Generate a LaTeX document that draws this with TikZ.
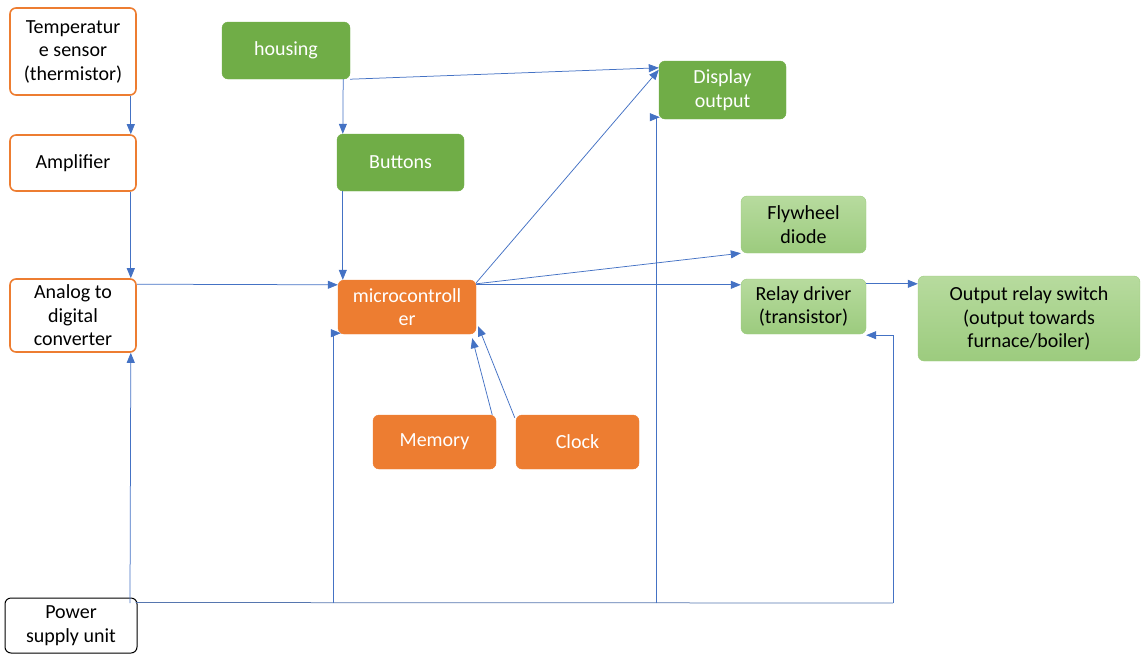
\documentclass[tikz,border=0pt]{standalone}
\usepackage{fontspec}
\setmainfont{Carlito}
\usetikzlibrary{arrows.meta,calc}
\definecolor{accOrange}{HTML}{ED7D31}
\definecolor{accGreen}{HTML}{70AD47}
\definecolor{lightGreenTop}{HTML}{B7DB9E}
\definecolor{lightGreenBot}{HTML}{9CCB7E}
\definecolor{lineBlue}{HTML}{4472C4}
\begin{document}
\begin{tikzpicture}[x=1pt,y=-1pt,
  box/.style={rounded corners=6pt, align=center, inner sep=2pt,
    font=\fontsize{20}{23.5}\selectfont},
  outlinebox/.style={box, draw=accOrange, line width=1.6pt, fill=white, text=black},
  orangebox/.style={box, fill=accOrange, draw=accOrange, text=white},
  greenbox/.style={box, fill=accGreen, draw=accGreen, text=white},
  palebox/.style={box, top color=lightGreenTop, bottom color=lightGreenBot,
    draw=lightGreenBot, text=black},
  psubox/.style={box, draw=black, line width=1pt, fill=white, text=black},
  link/.style={draw=lineBlue, line width=0.75pt,
    -{Triangle[length=10pt,width=8pt]}},
  rail/.style={draw=lineBlue!70!gray, line width=0.75pt}]
  \useasboundingbox (0,0) rectangle (1141,654);

  % sensing chain
  \node[outlinebox, minimum width=126pt, minimum height=87pt] (temp) at (73,51.5)
    {Temperatur\\e sensor\\(thermistor)};
  \node[outlinebox, minimum width=126pt, minimum height=56pt] (amp) at (73,163) {Amplifier};
  \node[outlinebox, minimum width=126pt, minimum height=73pt] (adc) at (73,315.5)
    {Analog to\\digital\\converter};
  \node[psubox, minimum width=132pt, minimum height=55pt] (psu) at (71,625.5)
    {Power\\supply unit};

  % user interface
  \node[greenbox, minimum width=128pt, minimum height=57pt] (housing) at (286,50.5) {housing};
  \node[greenbox, minimum width=127pt, minimum height=57pt] (buttons) at (400.5,162.5) {Buttons};
  \node[greenbox, minimum width=127pt, minimum height=58pt] (display) at (722.5,90)
    {Display\\output};

  % controller core
  \node[orangebox, minimum width=138pt, minimum height=54pt] (micro) at (407,307)
    {microcontroll\\er};
  \node[orangebox, minimum width=123pt, minimum height=54pt] (memory) at (434.5,442) {Memory};
  \node[orangebox, minimum width=123pt, minimum height=54pt] (clock) at (577.5,442) {Clock};

  % output stage
  \node[palebox, minimum width=125pt, minimum height=57pt] (fly) at (803.5,224.5)
    {Flywheel\\diode};
  \node[palebox, minimum width=125pt, minimum height=55pt] (relay) at (803.5,306.5)
    {Relay driver\\(transistor)};
  \node[palebox, minimum width=222pt, minimum height=85pt] (out) at (1029,318.5)
    {Output relay switch\\(output towards\\furnace/boiler)};

  % signal path
  \draw[link] ($(temp.south east)+(-6,0)$) -- ($(amp.north east)+(-6,0)$);
  \draw[link] ($(amp.south east)+(-6,0)$) -- ($(adc.north east)+(-6,0)$);
  \draw[link] ($(adc.north east)+(0,6)$) -- ($(micro.north west)+(0,5)$);
  \draw[link] ($(housing.south east)+(-7,0)$) -- ($(buttons.north west)+(6,0)$);
  \draw[link] (housing.south east) -- ($(display.north west)+(0,7)$);
  \draw[link] ($(buttons.south west)+(6,0)$) -- ($(micro.north west)+(5,0)$);
  \draw[link] ($(micro.north east)+(0,3)$) -- ($(display.north west)+(0,9)$);
  \draw[link] ($(micro.north east)+(0,4)$) -- (fly.south west);
  \draw[link] ($(micro.north east)+(0,5)$) -- ($(relay.north west)+(0,6)$);
  \draw[link] ($(relay.north east)+(0,5)$) -- ($(out.north west)+(0,8)$);
  \draw[link] ($(memory.north east)+(-4,0)$) -- ($(micro.south east)+(-4,4)$);
  \draw[link] ($(clock.north west)+(-1,3)$) -- ($(micro.south east)+(2,-8)$);

  % supply rail
  \coordinate (railstart) at ($(psu.north east)+(-2,5)$);
  \coordinate (tapadc) at (130,603);
  \coordinate (tapmcu) at (333,603);
  \coordinate (tapdisp) at (656,603);
  \coordinate (railend) at (893,603);
  \draw[rail] (railstart) -- (railend);
  \draw[link] (tapadc) -- ($(adc.south east)+(-6,0)$);
  \draw[link] (tapmcu) |- ($(micro.south west)+(3,-1)$);
  \draw[link] (tapdisp) |- ($(display.south west)+(1,-2)$);
  \draw[link] (railend) |- ($(relay.south east)+(0,1)$);
\end{tikzpicture}
\end{document}
